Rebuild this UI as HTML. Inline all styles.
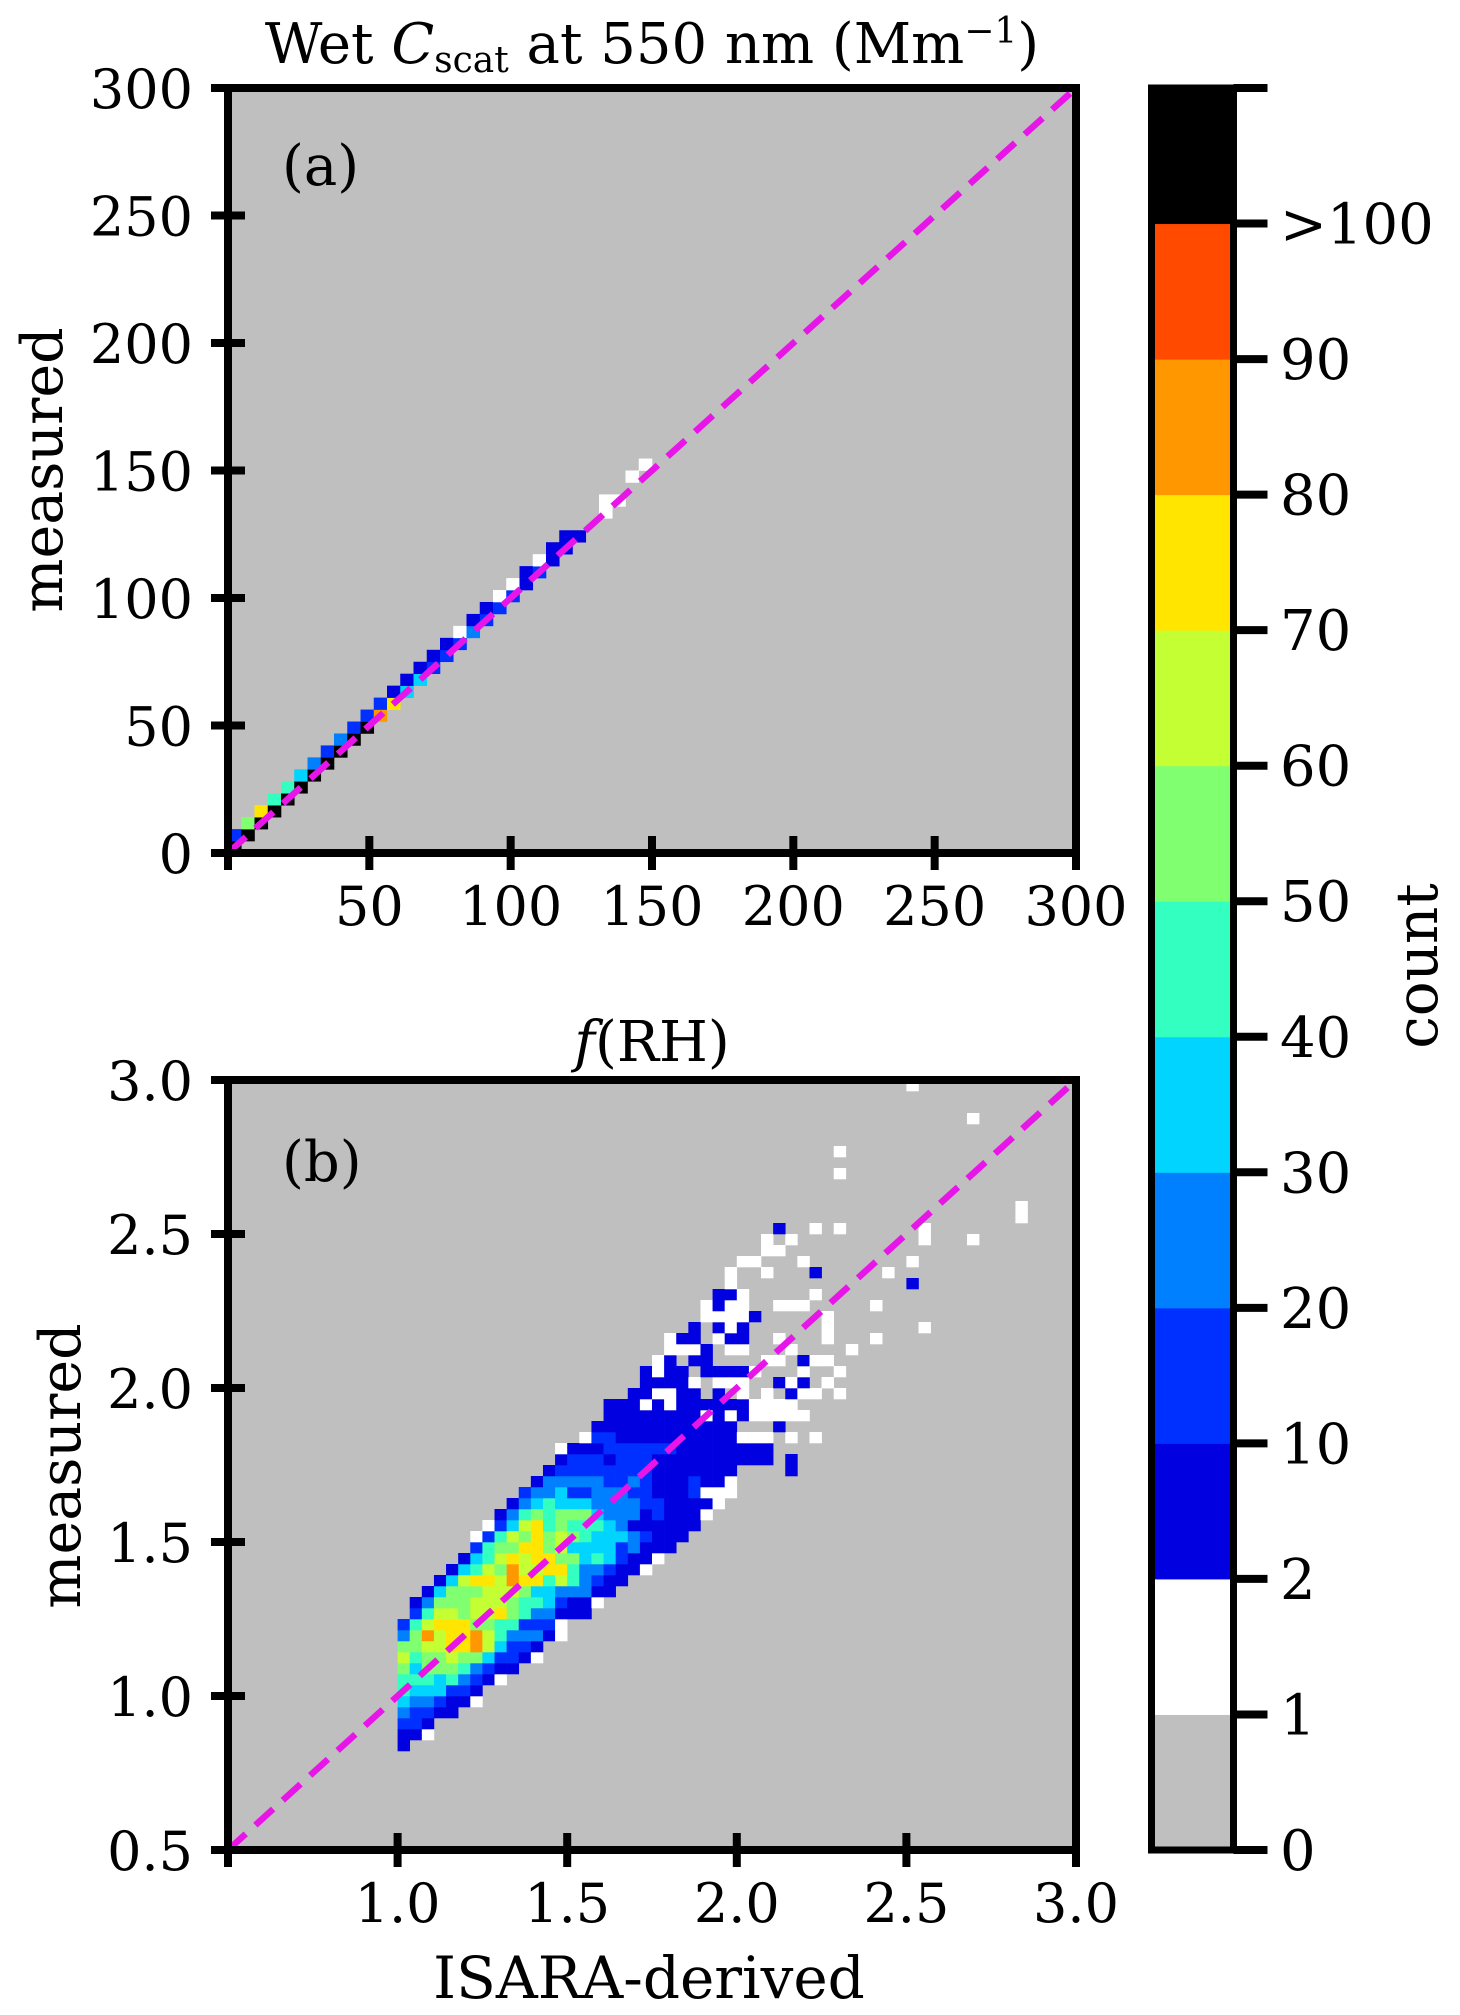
<!DOCTYPE html>
<html><head><meta charset="utf-8"><style>
html,body{margin:0;padding:0;background:#fff;}
svg{display:block;font-family:"DejaVu Serif","Liberation Serif",serif;}
</style></head><body>
<svg id="fig" width="1460" height="2015" viewBox="0 0 1460 2015" xmlns="http://www.w3.org/2000/svg">
<g id="pa"></g>
<g id="pb"></g>
<g id="cb"></g>
<text x="652" y="63" font-size="56" text-anchor="middle">Wet <tspan font-style="italic">C</tspan><tspan font-size="36" dy="9">scat</tspan><tspan dy="-9"> at 550 nm (Mm</tspan><tspan font-size="36" dy="-20">−1</tspan><tspan dy="20">)</tspan></text>
<text x="652" y="1061" font-size="56" text-anchor="middle"><tspan font-style="italic">f</tspan>(RH)</text>
<text x="282" y="185" font-size="56">(a)</text>
<text x="282" y="1181" font-size="56">(b)</text>
<text transform="translate(62,470) rotate(-90)" font-size="57" text-anchor="middle">measured</text>
<text transform="translate(80,1466) rotate(-90)" font-size="57" text-anchor="middle">measured</text>
<text x="649" y="1998" font-size="58" text-anchor="middle">ISARA-derived</text>
<text transform="translate(1437,966) rotate(-90)" font-size="58" text-anchor="middle">count</text>
</svg>
<script>
const levelColors=["#bfbfbf","#ffffff","#0000e0","#0030ff","#0080ff","#00d4ff","#33ffc0","#80ff70","#c4ff33","#ffe500","#ff9800","#ff4a00","#000000"];
const cbTickLabels=["0","1","2","10","20","30","40","50","60","70","80","90",">100"];
const aTicks=[0,50,100,150,200,250,300];
const aXLabels=["","50","100","150","200","250","300"];
const aYLabels=["0","50","100","150","200","250","300"];
const bTicks=[0.5,1.0,1.5,2.0,2.5,3.0];
const bXLabels=["","1.0","1.5","2.0","2.5","3.0"];
const bYLabels=["0.5","1.0","1.5","2.0","2.5","3.0"];
const binA=300/64;
// panel a cells: [col,row,level]
const cellsA=[[0,0,12],[0,1,3],[1,1,12],[1,2,7],[2,2,12],[2,3,9],[3,3,12],[3,4,6],[4,4,12],[4,5,6],[5,5,12],[5,6,5],[6,6,12],[6,7,4],[7,7,12],[7,8,3],[8,8,12],[8,9,4],[9,9,12],[9,10,3],[10,10,12],[10,11,3],[11,11,10],[11,12,3],[12,12,9],[12,13,2],[13,13,5],[13,14,2],[14,14,5],[14,15,2],[15,15,3],[15,16,2],[16,16,3],[16,17,2],[17,17,3],[17,18,1],[18,18,4],[18,19,2],[19,19,3],[19,20,2],[20,20,3],[20,21,1],[21,21,3],[21,22,1],[22,22,2],[22,23,2],[23,23,3],[23,24,1],[24,24,2],[24,25,2],[25,25,2],[25,26,2],[26,26,2],[28,28,1],[28,29,1],[29,29,1],[30,31,1],[31,32,1]];
const binB=2.5/70;
// panel b rows: [row, startCol, levels (hex digits)]
const rowsB=[[9,14,"2"],[10,14,"221"],[11,14,"332"],[12,14,"43322"],[13,14,"5443221"],[14,14,"6555332"],[15,14,"666564321"],[16,14,"7577764322"],[17,14,"867787753321"],[18,14,"778899a85332"],[19,14,"47a899a8644421"],[20,14,"36899977663331"],[21,15,"368878897644222"],[22,15,"2477788876653221"],[23,16,"2577788875544422"],[24,17,"258998a996864322"],[25,18,"25687a88996443221"],[26,19,"25689899775653221"],[27,20,"36779978555534222"],[28,20,"136879787655543222"],[29,21,"135896766654222222"],[30,22,"246767775444232221"],[31,23,"245655544443322221"],[32,24,"344533444332223111"],[33,25,"24444433432223221"],[34,26,"2333333332222222"],[34,46,"2"],[35,27,"233323332222222222"],[35,46,"2"],[36,27,"122233333322222222"],[37,29,"1332222222222111"],[37,46,"101"],[38,30,"222222222222"],[38,45,"2"],[39,31,"22222222121211111"],[40,31,"2221212222221111"],[41,33,"221122020101021101"],[42,34,"2222101110021201"],[42,49,"1"],[43,34,"21220222210001001"],[44,35,"120220000110211"],[45,36,"11120110001"],[45,51,"1"],[46,36,"12201220010001"],[46,53,"1"],[47,38,"202120000001"],[47,57,"1"],[48,39,"11112000001"],[49,39,"121100111"],[49,53,"1"],[50,40,"221000001"],[51,41,"1"],[51,56,"2"],[52,41,"10010002"],[52,54,"1"],[53,42,"110001"],[53,56,"1"],[54,44,"11"],[55,44,"101"],[55,57,"1"],[55,61,"1"],[56,45,"200101"],[56,57,"1"],[57,65,"1"],[58,65,"1"],[61,50,"1"],[63,50,"1"],[66,61,"1"],[69,56,"1"]];

const NS="http://www.w3.org/2000/svg";
function mk(parent,tag,attrs){const e=document.createElementNS(NS,tag);for(const k in attrs)e.setAttribute(k,attrs[k]);parent.appendChild(e);return e;}
const A={L:228,R:1076,T:88,B:853,min:0,max:300};
const Bp={L:228,R:1076,T:1080,B:1850,min:0.5,max:3.0};
function sx(p,v){return p.L+(v-p.min)/(p.max-p.min)*(p.R-p.L);}
function sy(p,v){return p.B-(v-p.min)/(p.max-p.min)*(p.B-p.T);}

function drawPanel(g,p,cells,bin,ticks,xl,yl,cname){
  const bg=mk(g,"rect",{x:p.L,y:p.T,width:p.R-p.L,height:p.B-p.T,fill:levelColors[0]});
  
  
  const cg=mk(g,"g",{});
  
  
  cells.forEach(c=>{
    const x0=sx(p,p.min+c[0]*bin),x1=sx(p,p.min+(c[0]+1)*bin);
    const y0=sy(p,p.min+(c[1]+1)*bin),y1=sy(p,p.min+c[1]*bin);
    const r=mk(cg,"rect",{x:x0,y:y0,width:x1-x0+0.3,height:y1-y0+0.3,fill:levelColors[c[2]]});
    
    
  });
  const ln=mk(g,"line",{x1:sx(p,p.min),y1:sy(p,p.min),x2:sx(p,p.max),y2:sy(p,p.max),stroke:"#e815e8","stroke-width":6.5,"stroke-dasharray":"24 13"});
  
  
  const fr=mk(g,"rect",{x:p.L,y:p.T,width:p.R-p.L,height:p.B-p.T,fill:"none",stroke:"#000","stroke-width":8});
  
  
  ticks.forEach((t,i)=>{
    const X=sx(p,t);
    const tk=mk(g,"line",{x1:X,y1:p.B-17,x2:X,y2:p.B+17,stroke:"#000","stroke-width":8});
    
    
    if(xl[i]){const tx=mk(g,"text",{x:X,y:p.B+72,"font-size":54,"text-anchor":"middle"});tx.textContent=xl[i];
      
      }
    const Y=sy(p,t);
    const tk2=mk(g,"line",{x1:p.L-17,y1:Y,x2:p.L+17,y2:Y,stroke:"#000","stroke-width":8});
    
    
    const ty=mk(g,"text",{x:p.L-35,y:Y+20,"font-size":54,"text-anchor":"end"});ty.textContent=yl[i];
    
    
  });
}
drawPanel(document.getElementById("pa"),A,cellsA,binA,aTicks,aXLabels,aYLabels,"heatmap-a");
const cellsB=[];
rowsB.forEach(r=>{for(let i=0;i<r[2].length;i++){const lv=parseInt(r[2][i],16);if(lv>0)cellsB.push([r[1]+i,r[0],lv]);}});
drawPanel(document.getElementById("pb"),Bp,cellsB,binB,bTicks,bXLabels,bYLabels,"heatmap-b");

// colorbar
const cb=document.getElementById("cb");
const CB={L:1151.5,R:1233.5,T:88,B:1850};
const n=levelColors.length;
const h=(CB.B-CB.T)/n;
levelColors.forEach((c,i)=>{
  const r=mk(cb,"rect",{x:CB.L,y:CB.B-(i+1)*h,width:CB.R-CB.L,height:h+0.5,fill:c});
  
  
});
const cf=mk(cb,"rect",{x:CB.L,y:CB.T,width:CB.R-CB.L,height:CB.B-CB.T,fill:"none",stroke:"#000","stroke-width":7});


cbTickLabels.forEach((lab,i)=>{
  const Y=CB.B-i*h;
  const t=mk(cb,"line",{x1:CB.R,y1:Y,x2:CB.R+34,y2:Y,stroke:"#000","stroke-width":8});
  
  
  const tx=mk(cb,"text",{x:1280,y:Y+20,"font-size":56});tx.textContent=lab;
  
  
});
const tt=mk(cb,"line",{x1:CB.R,y1:CB.T,x2:CB.R+34,y2:CB.T,stroke:"#000","stroke-width":8});


</script>
</body></html>
